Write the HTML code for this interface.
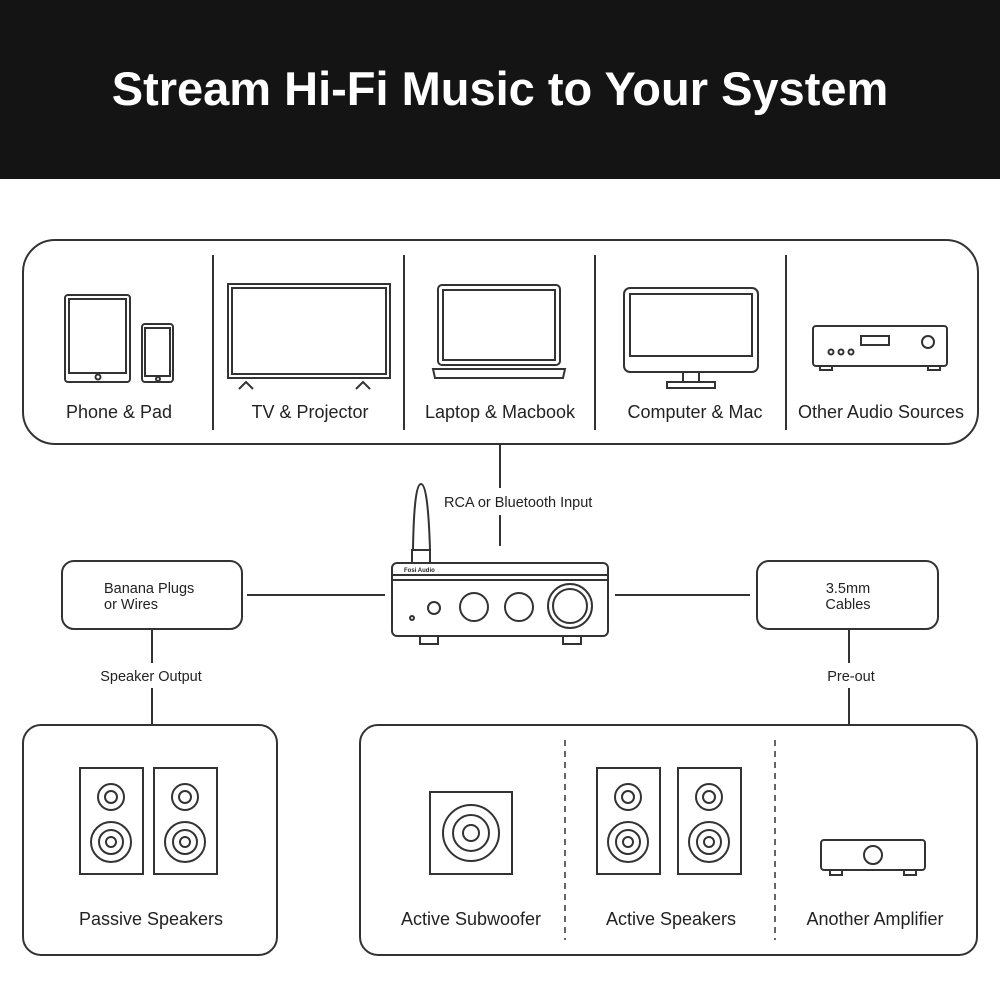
<!DOCTYPE html>
<html><head><meta charset="utf-8"><style>
body{margin:0;width:1000px;height:1000px;background:#fff;overflow:hidden}
svg{display:block}
text{font-family:"Liberation Sans",sans-serif;fill:#222}
</style></head><body>
<svg width="1000" height="1000" viewBox="0 0 1000 1000" xmlns="http://www.w3.org/2000/svg">
<rect x="0" y="0" width="1000" height="179" fill="#141414"/>
<text x="500" y="105" text-anchor="middle" font-size="47" font-weight="bold" style="fill:#fff">Stream Hi-Fi Music to Your System</text>
<g fill="none" stroke="#333" stroke-width="2">
<rect x="23" y="240" width="955" height="204" rx="32"/>
<line x1="213" y1="255" x2="213" y2="430"/><line x1="404" y1="255" x2="404" y2="430"/>
<line x1="595" y1="255" x2="595" y2="430"/><line x1="786" y1="255" x2="786" y2="430"/>
<rect x="23" y="725" width="254" height="230" rx="18"/>
<rect x="360" y="725" width="617" height="230" rx="18"/>
<line x1="565" y1="740" x2="565" y2="940" stroke-dasharray="6,5" stroke-width="1.5"/>
<line x1="775" y1="740" x2="775" y2="940" stroke-dasharray="6,5" stroke-width="1.5"/>
<rect x="62" y="561" width="180" height="68" rx="12"/>
<rect x="757" y="561" width="181" height="68" rx="12"/>
<line x1="500" y1="444" x2="500" y2="488"/><line x1="500" y1="515" x2="500" y2="546"/>
<line x1="247" y1="595" x2="385" y2="595"/><line x1="615" y1="595" x2="750" y2="595"/>
<line x1="152" y1="629" x2="152" y2="663"/><line x1="152" y1="688" x2="152" y2="725"/>
<line x1="849" y1="629" x2="849" y2="663"/><line x1="849" y1="688" x2="849" y2="725"/>
</g>
<g fill="#fff" stroke="#333" stroke-width="2">
<rect x="65" y="295" width="65" height="87" rx="3"/><rect x="69" y="299" width="57" height="74" fill="none"/>
<circle cx="98" cy="377" r="2.5"/>
<rect x="142" y="324" width="31" height="58" rx="3"/><rect x="145" y="328" width="25" height="48" fill="none"/>
<circle cx="158" cy="379" r="2"/>
<rect x="228" y="284" width="162" height="94"/><rect x="232" y="288" width="154" height="86"/>
<polyline points="239,389 246,382 253,389" fill="none"/><polyline points="356,389 363,382 370,389" fill="none"/>
<rect x="438" y="285" width="122" height="80" rx="4"/><rect x="443" y="290" width="112" height="70"/>
<path d="M433 369 H565 L563 378 H435 Z"/>
<rect x="624" y="288" width="134" height="84" rx="6"/><rect x="630" y="294" width="122" height="62"/>
<rect x="683" y="372" width="16" height="10"/><rect x="667" y="382" width="48" height="6"/>
<rect x="813" y="326" width="134" height="40" rx="3"/>
<rect x="861" y="336" width="28" height="9"/><circle cx="928" cy="342" r="6"/>
<circle cx="831" cy="352" r="2.5"/><circle cx="841" cy="352" r="2.5"/><circle cx="851" cy="352" r="2.5"/>
<rect x="820" y="366" width="12" height="4"/><rect x="928" y="366" width="12" height="4"/>
<!-- amp -->
<path d="M413 550 Q414 484 421 484 Q428 484 430 550 Z"/>
<rect x="412" y="550" width="18" height="13"/>
<rect x="392" y="563" width="216" height="73" rx="5"/>
<line x1="392" y1="575" x2="608" y2="575"/><line x1="392" y1="580" x2="608" y2="580"/>
<rect x="420" y="636" width="18" height="8"/><rect x="563" y="636" width="18" height="8"/>
<circle cx="474" cy="607" r="14"/><circle cx="519" cy="607" r="14"/>
<circle cx="570" cy="606" r="22"/><circle cx="570" cy="606" r="17"/>
<circle cx="412" cy="618" r="2"/><circle cx="434" cy="608" r="6"/>
<rect x="80" y="768" width="63" height="106"/><rect x="154" y="768" width="63" height="106"/>
<circle cx="111" cy="797" r="13"/><circle cx="111" cy="797" r="6"/><circle cx="111" cy="842" r="20"/><circle cx="111" cy="842" r="12"/><circle cx="111" cy="842" r="5"/>
<circle cx="185" cy="797" r="13"/><circle cx="185" cy="797" r="6"/><circle cx="185" cy="842" r="20"/><circle cx="185" cy="842" r="12"/><circle cx="185" cy="842" r="5"/>
<rect x="430" y="792" width="82" height="82"/><circle cx="471" cy="833" r="28"/><circle cx="471" cy="833" r="18"/><circle cx="471" cy="833" r="8"/>
<rect x="597" y="768" width="63" height="106"/><rect x="678" y="768" width="63" height="106"/>
<circle cx="628" cy="797" r="13"/><circle cx="628" cy="797" r="6"/><circle cx="628" cy="842" r="20"/><circle cx="628" cy="842" r="12"/><circle cx="628" cy="842" r="5"/>
<circle cx="709" cy="797" r="13"/><circle cx="709" cy="797" r="6"/><circle cx="709" cy="842" r="20"/><circle cx="709" cy="842" r="12"/><circle cx="709" cy="842" r="5"/>
<rect x="821" y="840" width="104" height="30" rx="3"/><circle cx="873" cy="855" r="9"/>
<rect x="830" y="870" width="12" height="5"/><rect x="904" y="870" width="12" height="5"/>
</g>
<g font-size="18" text-anchor="middle">
<text x="119" y="418">Phone &amp; Pad</text><text x="310" y="418">TV &amp; Projector</text>
<text x="500" y="418">Laptop &amp; Macbook</text><text x="695" y="418">Computer &amp; Mac</text>
<text x="881" y="418">Other Audio Sources</text>
<text x="151" y="925">Passive Speakers</text><text x="471" y="925">Active Subwoofer</text>
<text x="671" y="925">Active Speakers</text><text x="875" y="925">Another Amplifier</text>
</g>
<g font-size="14.5">
<text x="444" y="507">RCA or Bluetooth Input</text>
<text x="104" y="593">Banana Plugs</text><text x="104" y="609">or Wires</text>
<text x="848" y="593" text-anchor="middle">3.5mm</text><text x="848" y="609" text-anchor="middle">Cables</text>
<text x="151" y="681" text-anchor="middle">Speaker Output</text>
<text x="851" y="681" text-anchor="middle">Pre-out</text>
<text x="404" y="572" font-size="6" font-weight="bold">Fosi Audio</text>
</g>
</svg>
</body></html>
